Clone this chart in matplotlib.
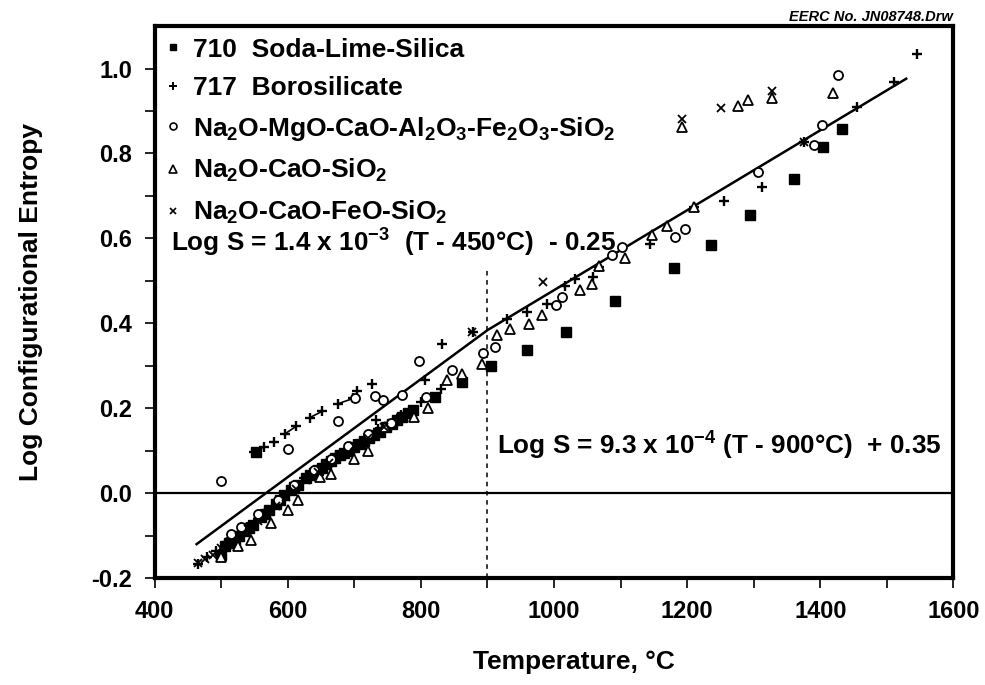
import matplotlib
matplotlib.use("Agg")
import matplotlib.pyplot as plt
from matplotlib.lines import Line2D

plt.rcParams['font.family'] = ['Liberation Sans', 'DejaVu Sans']
plt.rcParams['font.weight'] = 'bold'
plt.rcParams['axes.labelweight'] = 'bold'
plt.rcParams['mathtext.default'] = 'regular'

# 710 Soda-Lime-Silica
sls_T = [500, 505, 512, 520, 527, 535, 541, 548, 553, 560, 566, 572, 583, 589, 595,
         605, 610, 615, 628, 634, 640, 646, 652, 658, 665, 671, 678, 685, 692, 700,
         708, 715, 722, 730, 738, 747, 756, 764, 772, 780, 788, 821, 861, 905, 959,
         1018, 1092, 1180, 1235, 1294, 1360, 1404, 1433]
sls_S = [-0.145, -0.125, -0.118, -0.11, -0.1, -0.09, -0.082, -0.075, 0.097, -0.055,
         -0.048, -0.04, -0.025, -0.015, -0.005, 0.008, 0.014, 0.02, 0.035, 0.042,
         0.048, 0.055, 0.06, 0.068, 0.075, 0.082, 0.09, 0.095, 0.10, 0.108, 0.117,
         0.123, 0.13, 0.138, 0.145, 0.155, 0.164, 0.172, 0.18, 0.188, 0.195, 0.227,
         0.262, 0.30, 0.338, 0.38, 0.452, 0.53, 0.585, 0.654, 0.74, 0.816, 0.858]

# 717 Borosilicate, low-temperature branch measured in pairs
boro_pair_T = [(550, 564), (596, 613), (633, 652), (676, 698)]
boro_pair_S = [(0.097, 0.109), (0.140, 0.158), (0.178, 0.193), (0.211, 0.223)]
boro_T = [465, 478, 492, 508, 522, 538, 555, 570, 580, 585, 605, 625, 648, 672, 700,
          704, 727, 733, 735, 770, 800, 806, 830, 832, 878, 929, 960, 989, 1016, 1032,
          1059, 1067, 1144, 1210, 1255, 1312, 1375, 1455, 1510, 1545]
boro_S = [-0.166, -0.15, -0.135, -0.115, -0.1, -0.08, -0.06, -0.04, 0.121, -0.02,
          0.01, 0.035, 0.06, 0.09, 0.115, 0.241, 0.258, 0.172, 0.15, 0.185, 0.215,
          0.266, 0.245, 0.352, 0.38, 0.41, 0.427, 0.446, 0.489, 0.505, 0.509, 0.532,
          0.587, 0.674, 0.689, 0.721, 0.827, 0.909, 0.968, 1.035]

# Na2O-MgO-CaO-Al2O3-Fe2O3-SiO2
nmc_T = [500, 515, 530, 555, 585, 600, 610, 640, 665, 676, 690, 701, 720, 731, 743,
         755, 771, 797, 808, 846, 894, 911, 1003, 1012, 1087, 1102, 1182, 1197, 1306,
         1390, 1402, 1427]
nmc_S = [0.029, -0.095, -0.08, -0.05, -0.015, 0.105, 0.02, 0.055, 0.08, 0.170, 0.11,
         0.223, 0.14, 0.229, 0.219, 0.165, 0.232, 0.311, 0.227, 0.289, 0.329, 0.344,
         0.442, 0.462, 0.56, 0.58, 0.603, 0.623, 0.756, 0.819, 0.868, 0.984]

# Na2O-CaO-SiO2
ncs_T = [500, 525, 545, 575, 600, 615, 648, 665, 700, 720, 746, 790, 810, 839,
         861, 891, 914, 934, 962, 982, 1039, 1057, 1068, 1107, 1147, 1169, 1192, 1210,
         1277, 1292, 1327, 1419]
ncs_S = [-0.15, -0.125, -0.11, -0.07, -0.04, -0.015, 0.038, 0.045, 0.08, 0.1,
         0.156, 0.18, 0.2, 0.266, 0.28, 0.305, 0.372, 0.386, 0.398, 0.419, 0.478, 0.493,
         0.534, 0.553, 0.607, 0.628, 0.862, 0.674, 0.911, 0.926, 0.931, 0.942]

# Na2O-CaO-FeO-SiO2
ncf_T = [465, 475, 488, 500, 512, 526, 540, 555, 568, 582, 597, 612, 628, 645, 662,
         680, 700, 720, 745, 770, 877, 983, 1192, 1251, 1327, 1375]
ncf_S = [-0.165, -0.155, -0.145, -0.13, -0.118, -0.102, -0.085, -0.065, -0.048,
         -0.03, -0.01, 0.01, 0.03, 0.05, 0.07, 0.09, 0.11, 0.13, 0.155, 0.18, 0.38,
         0.497, 0.882, 0.907, 0.947, 0.827]

# fitted two-segment line, break at 900 C
fit_T = [463, 900, 1529]
fit_S = [-0.12, 0.384, 0.976]
break_T = 900
break_top = 0.53

eq_low = r'Log S = 1.4 x 10$^{-3}$  (T - 450°C)  - 0.25'
eq_high = r'Log S = 9.3 x 10$^{-4}$ (T - 900°C)  + 0.35'

labels = ['710  Soda-Lime-Silica',
          '717  Borosilicate',
          r'Na$_2$O-MgO-CaO-Al$_2$O$_3$-Fe$_2$O$_3$-SiO$_2$',
          r'Na$_2$O-CaO-SiO$_2$',
          r'Na$_2$O-CaO-FeO-SiO$_2$']

fig = plt.figure(figsize=(9.85, 6.85), dpi=100)
ax = fig.add_axes([0.157, 0.156, 0.811, 0.806])

k = 'black'
ax.axhline(0, color=k, lw=1.6, zorder=1)
ax.plot([break_T, break_T], [-0.2, break_top], color=k, lw=1.1,
        linestyle=(0, (3, 3)), zorder=1)
ax.plot(fit_T, fit_S, color=k, lw=1.8, zorder=2)

for pt, ps in zip(boro_pair_T, boro_pair_S):
    ax.plot(pt, ps, color=k, lw=1.2, zorder=3)

ax.plot(sls_T, sls_S, 's', ms=6.5, color=k, zorder=4)
ax.plot(boro_T, boro_S, '+', ms=7.5, mew=1.7, color=k, zorder=4)
ax.plot([p[0] for p in boro_pair_T] + [p[1] for p in boro_pair_T],
        [p[0] for p in boro_pair_S] + [p[1] for p in boro_pair_S],
        '+', ms=7.5, mew=1.7, color=k, zorder=4)
ax.plot(nmc_T, nmc_S, 'o', ms=6.5, mfc='white', mec=k, mew=1.3, zorder=4)
ax.plot(ncs_T, ncs_S, '^', ms=7, mfc='white', mec=k, mew=1.3, zorder=4)
ax.plot(ncf_T, ncf_S, 'x', ms=6, mew=1.3, color=k, zorder=4)

handles = [
    Line2D([], [], ls='none', marker='s', ms=5, color=k),
    Line2D([], [], ls='none', marker='+', ms=6, mew=1.4, color=k),
    Line2D([], [], ls='none', marker='o', ms=5, mfc='white', mec=k, mew=1.2),
    Line2D([], [], ls='none', marker='^', ms=5.5, mfc='white', mec=k, mew=1.2),
    Line2D([], [], ls='none', marker='x', ms=5, mew=1.2, color=k),
]
ax.legend(handles, labels, loc='upper left', bbox_to_anchor=(0.0127, 0.979),
          frameon=False, fontsize=19, handlelength=0.6, handletextpad=0.46,
          labelspacing=0.55, borderaxespad=0, borderpad=0)

ax.text(425, 0.59, eq_low, fontsize=18.8, va='center', ha='left')
ax.text(915, 0.112, eq_high, fontsize=18.8, va='center', ha='left')

ax.set_xlim(400, 1600)
ax.set_ylim(-0.2, 1.1)
ax.set_xticks(range(400, 1601, 200))
ax.set_xticks(range(400, 1601, 100), minor=True)
ax.set_yticks([-0.2, 0.0, 0.2, 0.4, 0.6, 0.8, 1.0])
ax.set_yticks([-0.1, 0.1, 0.3, 0.5, 0.7, 0.9], minor=True)
ax.set_yticklabels(['-0.2', '0.0', '0.2', '0.4', '0.6', '0.8', '1.0'])
for s in ax.spines.values():
    s.set_linewidth(3.0)
ax.tick_params(which='both', direction='out', width=1.2, length=7, labelsize=17)
ax.tick_params(axis='x', which='both', pad=9)
ax.tick_params(axis='y', which='both', pad=9)

ax.set_xlabel('Temperature, °C', fontsize=19)
ax.set_ylabel('Log Configurational Entropy', fontsize=19)
ax.xaxis.set_label_coords(0.525, -0.13)
ax.yaxis.set_label_coords(-0.14, 0.5)

fig.text(0.9675, 0.975, 'EERC No. JN08748.Drw', fontsize=10.5, style='italic',
         ha='right', va='center')

fig.savefig('out.png', dpi=100)
